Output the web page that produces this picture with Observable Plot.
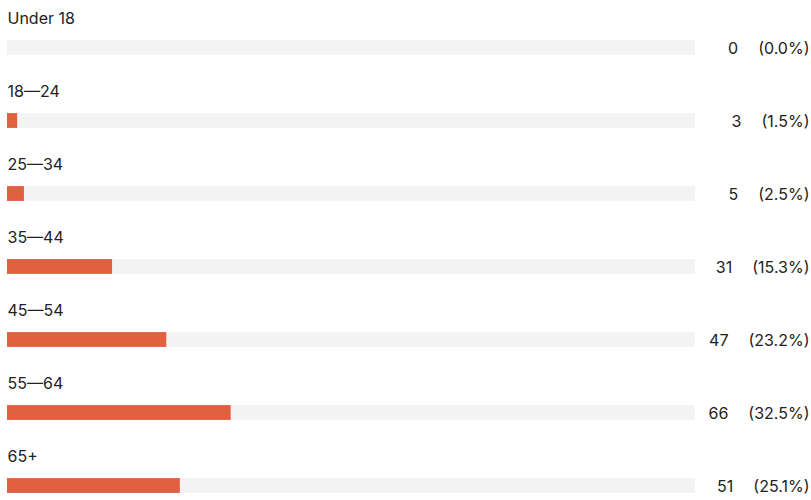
<!DOCTYPE html>
<html>
<head>
<meta charset="utf-8">
<script src="https://cdn.jsdelivr.net/npm/d3@7"></script>
<script src="https://cdn.jsdelivr.net/npm/@observablehq/plot@0.6"></script>
<style>
  html, body { margin: 0; padding: 0; background: #fff; }
  svg { display: block; }
</style>
</head>
<body>
<div id="chart"></div>
<script>
const categories = ["Under 18", "18—24", "25—34", "35—44", "45—54", "55—64", "65+"];
const counts = [0, 3, 5, 31, 47, 66, 51];
const percents = ["(0.0%)", "(1.5%)", "(2.5%)", "(15.3%)", "(23.2%)", "(32.5%)", "(25.1%)"];
const total = 203;

const data = categories.map((c, i) => ({ cat: c, count: counts[i], pct: percents[i], total }));

const bandH = 73.2;
const barH = 15;
const inset = (bandH - barH) / 2;

const chart = Plot.plot({
  width: 811,
  height: 500,
  margin: 0,
  style: { fontFamily: "Inter, sans-serif", fontSize: "16px", color: "#222", background: "#fff" },
  x: { domain: [0, total], range: [7, 695], axis: null },
  y: { domain: categories, range: [10.5, 10.5 + bandH * 7], padding: 0, axis: null },
  marks: [
    Plot.barX(data, { y: "cat", x1: 0, x2: "total", fill: "#f3f3f3", insetTop: inset, insetBottom: inset }),
    Plot.barX(data, { y: "cat", x1: 0, x2: "count", fill: "#e0603f", insetTop: inset, insetBottom: inset }),
    Plot.text(data, { y: "cat", x: 0, text: "cat", textAnchor: "start", dy: -29, dx: 0, fill: "#222", fontSize: 16 }),
    Plot.text(data, { y: "cat", text: d => `${d.count}\u2003\u2005${d.pct}`, frameAnchor: "right", textAnchor: "end", dx: -2, dy: 1, fill: "#222", fontSize: 16 })
  ]
});
document.getElementById("chart").appendChild(chart);
</script>
</body>
</html>
